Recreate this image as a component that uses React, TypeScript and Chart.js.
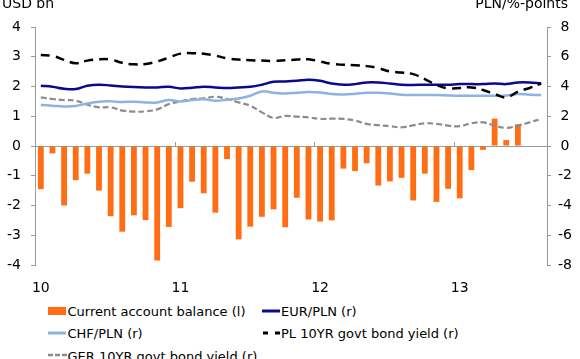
import React, { useEffect, useRef } from 'react';
import { Chart, registerables } from 'chart.js';

Chart.register(...registerables);

// ---- data ----
const months = [
  'Jan 10', 'Feb 10', 'Mar 10', 'Apr 10', 'May 10', 'Jun 10', 'Jul 10', 'Aug 10', 'Sep 10', 'Oct 10', 'Nov 10', 'Dec 10',
  'Jan 11', 'Feb 11', 'Mar 11', 'Apr 11', 'May 11', 'Jun 11', 'Jul 11', 'Aug 11', 'Sep 11', 'Oct 11', 'Nov 11', 'Dec 11',
  'Jan 12', 'Feb 12', 'Mar 12', 'Apr 12', 'May 12', 'Jun 12', 'Jul 12', 'Aug 12', 'Sep 12', 'Oct 12', 'Nov 12', 'Dec 12',
  'Jan 13', 'Feb 13', 'Mar 13', 'Apr 13', 'May 13', 'Jun 13', 'Jul 13', 'Aug 13',
];
const yearTicks = ['10', '11', '12', '13'];

const currentAccount = [
  -1.45, -0.25, -2.0, -1.15, -0.93, -1.5, -2.36, -2.88, -2.33, -2.49, -3.85, -2.72,
  -2.09, -1.2, -1.59, -2.24, -0.44, -3.14, -2.71, -2.38, -2.13, -2.73,
  -1.74, -2.47, -2.54, -2.5, -0.76, -0.84, -0.58, -1.33, -1.19, -1.07, -1.83, -0.93, -1.88, -1.44,
  -1.76, -0.81, -0.13, 0.92, 0.2, 0.73, null, null,
];
const eurPln = [
  4.05, 3.98, 3.85, 3.83, 4.05, 4.12, 4.07, 4.0, 3.96, 3.94, 3.94, 3.98, 3.87, 3.92, 3.99,
  3.94, 3.9, 3.94, 3.98, 4.12, 4.32, 4.34, 4.38, 4.45, 4.38, 4.2, 4.12, 4.16, 4.27,
  4.27, 4.2, 4.12, 4.1, 4.12, 4.12, 4.12, 4.16, 4.16, 4.16, 4.2, 4.16, 4.27, 4.27, 4.2,
];
const chfPln = [
  2.76, 2.71, 2.66, 2.69, 2.86, 2.98, 3.0, 2.96, 2.98, 2.93, 2.93, 3.09, 3.0, 3.09, 3.14,
  3.05, 3.11, 3.2, 3.38, 3.67, 3.58, 3.53, 3.58, 3.63, 3.6, 3.49, 3.47, 3.51, 3.58,
  3.58, 3.53, 3.45, 3.43, 3.43, 3.43, 3.4, 3.38, 3.38, 3.38, 3.38, 3.4, 3.49, 3.45, 3.43,
];
const pl10y = [
  6.12, 6.06, 5.79, 5.56, 5.74, 5.83, 5.81, 5.59, 5.49, 5.51, 5.68, 5.94, 6.21, 6.24, 6.2,
  6.08, 5.9, 5.81, 5.77, 5.74, 5.72, 5.76, 5.81, 5.83, 5.68, 5.52, 5.46, 5.43, 5.37,
  5.24, 5.01, 4.94, 4.83, 4.5, 4.1, 3.87, 3.9, 3.94, 3.76, 3.49, 3.27, 3.65, 3.9, 4.2,
];
const ger10y = [
  3.27, 3.16, 3.09, 3.05, 2.78, 2.6, 2.6, 2.38, 2.31, 2.33, 2.46, 2.82, 3.0, 3.16, 3.2,
  3.31, 3.16, 2.93, 2.71, 2.26, 1.89, 2.02, 1.97, 1.93, 1.82, 1.84, 1.82, 1.71, 1.49,
  1.4, 1.33, 1.26, 1.39, 1.53, 1.49, 1.37, 1.33, 1.53, 1.59, 1.37, 1.22, 1.37, 1.59, 1.82,
];

// ---- styles ----
const FONT = '"DejaVu Sans", Verdana, sans-serif';
const AXIS = '#9a9a9a';
const ORANGE = '#FF6E14';
const NAVY = '#0A0A8F';
const LIGHTBLUE = '#8DB3E2';
const GREY = '#8C8C8C';

const overlay = {
  id: 'overlay',
  beforeDatasetsDraw(chart: any) {
    const { ctx, scales } = chart;
    const x = scales.x;
    const y = scales.y;
    const y0 = y.getPixelForValue(0);
    ctx.save();
    ctx.strokeStyle = AXIS;
    ctx.lineWidth = 1;
    for (let i = 12; i < months.length; i += 12) {
      const px = Math.round((x.getPixelForValue(i - 1) + x.getPixelForValue(i)) / 2) + 0.5;
      ctx.beginPath();
      ctx.moveTo(px, y0 - 4);
      ctx.lineTo(px, y0 + 1);
      ctx.stroke();
    }
    ctx.restore();
  },
  afterDraw(chart: any) {
    const { ctx } = chart;
    ctx.save();
    ctx.fillStyle = '#000';
    ctx.font = '14px ' + FONT;
    ctx.textBaseline = 'alphabetic';
    ctx.textAlign = 'left';
    ctx.fillText('USD bn', 2, 8);
    ctx.textAlign = 'right';
    ctx.fillText('PLN/%-points', 568, 8);
    ctx.restore();
  },
};

function ChartCanvas() {
  const ref = useRef<HTMLCanvasElement | null>(null);
  useEffect(() => {
    if (!ref.current) return;
    const tickFont = { family: FONT, size: 14 };
    const chart = new Chart(ref.current, {
      type: 'bar',
      data: {
        labels: months,
        datasets: [
          {
            type: 'line',
            label: 'EUR/PLN (r)',
            data: eurPln,
            yAxisID: 'y1',
            borderColor: NAVY,
            borderWidth: 2.5,
            pointRadius: 0,
            tension: 0.4,
            order: 2,
          } as any,
          {
            type: 'line',
            label: 'CHF/PLN (r)',
            data: chfPln,
            yAxisID: 'y1',
            borderColor: LIGHTBLUE,
            borderWidth: 2.5,
            pointRadius: 0,
            tension: 0.4,
            order: 3,
          } as any,
          {
            type: 'line',
            label: 'PL 10YR govt bond yield (r)',
            data: pl10y,
            yAxisID: 'y1',
            borderColor: '#000000',
            borderWidth: 2.5,
            borderDash: [9, 6],
            pointRadius: 0,
            tension: 0.4,
            order: 1,
          } as any,
          {
            type: 'line',
            label: 'GER 10YR govt bond yield (r)',
            data: ger10y,
            yAxisID: 'y1',
            borderColor: GREY,
            borderWidth: 2.2,
            borderDash: [6, 3],
            pointRadius: 0,
            tension: 0.4,
            order: 4,
          } as any,
          {
            type: 'bar',
            label: 'Current account balance (l)',
            data: currentAccount,
            yAxisID: 'y',
            backgroundColor: ORANGE,
            borderWidth: 0,
            barPercentage: 0.5,
            categoryPercentage: 1.0,
            order: 10,
          } as any,
        ],
      },
      options: {
        responsive: false,
        animation: false,
        devicePixelRatio: 1,
        layout: { padding: { top: 27, left: 0, right: 0, bottom: 0 } },
        plugins: { legend: { display: false }, tooltip: { enabled: false } },
        scales: {
          x: {
            type: 'category',
            offset: true,
            grid: { display: false },
            border: { display: false },
            ticks: {
              autoSkip: false,
              maxRotation: 0,
              minRotation: 0,
              padding: 7,
              color: '#000',
              font: tickFont,
              callback: (_v: any, i: number) => (i % 12 === 0 ? yearTicks[i / 12] : ''),
            },
            afterFit: (s: any) => {
              s.height = 35;
            },
          },
          y: {
            position: 'left',
            min: -4,
            max: 4,
            ticks: { stepSize: 1, padding: 10, color: '#000', font: tickFont },
            grid: {
              color: (c: any) => (c.tick && c.tick.value === 0 ? AXIS : 'rgba(0,0,0,0)'),
              tickColor: AXIS,
              tickLength: 4,
              lineWidth: 1,
            },
            border: { color: AXIS },
            afterFit: (s: any) => {
              s.width = 35;
            },
          },
          y1: {
            position: 'right',
            min: -8,
            max: 8,
            ticks: { stepSize: 2, padding: 7, crossAlign: 'center', color: '#000', font: tickFont },
            grid: { drawOnChartArea: false, tickColor: AXIS, tickLength: 4 },
            border: { color: AXIS },
            afterFit: (s: any) => {
              s.width = 33;
            },
          },
        },
      } as any,
      plugins: [overlay],
    });
    return () => chart.destroy();
  }, []);
  return (
    <canvas
      ref={ref}
      width={580}
      height={300}
      style={{ position: 'absolute', left: 0, top: 0, width: 580, height: 300 }}
    />
  );
}

const textStyle: React.CSSProperties = {
  position: 'absolute',
  fontFamily: FONT,
  fontSize: 13,
  lineHeight: '16px',
  whiteSpace: 'nowrap',
  color: '#000',
};

function LineSym({ left, cy, color, width, dash, w }: { left: number; cy: number; color: string; width: number; dash?: string; w: number }) {
  return (
    <svg
      width={w}
      height={6}
      style={{ position: 'absolute', left, top: cy - 3, overflow: 'visible' }}
    >
      <line x1={0} y1={3} x2={w} y2={3} stroke={color} strokeWidth={width} strokeDasharray={dash} />
    </svg>
  );
}

export default function App() {
  return (
    <div
      style={{
        position: 'absolute',
        left: 0,
        top: 0,
        width: 580,
        height: 359,
        overflow: 'hidden',
        background: '#fff',
      }}
    >
      <ChartCanvas />
      {/* legend */}
      <div style={{ position: 'absolute', left: 48, top: 307, width: 18, height: 8, background: ORANGE }} />
      <div style={{ ...textStyle, left: 67.5, top: 303.5 }}>Current account balance (l)</div>
      <LineSym left={262} cy={311} color={NAVY} width={3} w={18} />
      <div style={{ ...textStyle, left: 281, top: 303.5 }}>EUR/PLN (r)</div>

      <LineSym left={48} cy={333} color={LIGHTBLUE} width={3} w={18} />
      <div style={{ ...textStyle, left: 67.5, top: 326 }}>CHF/PLN (r)</div>
      <LineSym left={263} cy={333} color="#000" width={3} dash="5,7" w={17} />
      <div style={{ ...textStyle, left: 281, top: 326 }}>PL 10YR govt bond yield (r)</div>

      <LineSym left={48} cy={355} color={GREY} width={2.5} dash="5,2" w={19} />
      <div style={{ ...textStyle, left: 67.5, top: 348.5 }}>GER 10YR govt bond yield (r)</div>
    </div>
  );
}
